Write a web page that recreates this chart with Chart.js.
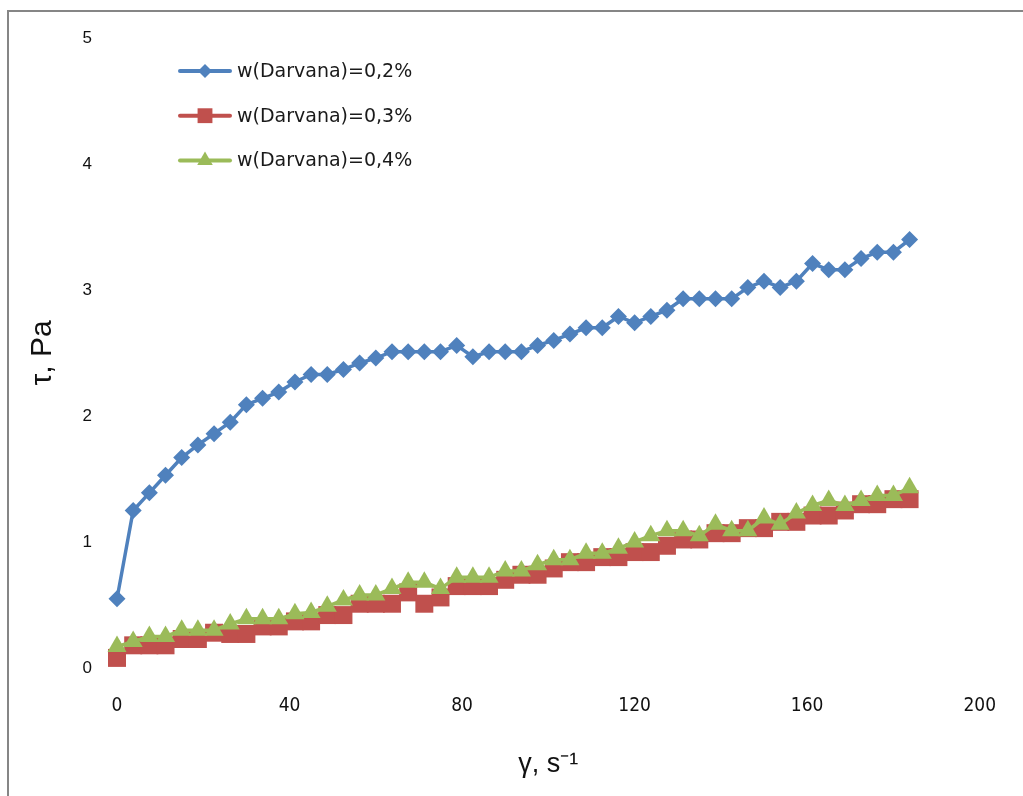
<!DOCTYPE html>
<html>
<head>
<meta charset="utf-8">
<script src="https://cdn.jsdelivr.net/npm/chart.js@4.4.1/dist/chart.umd.min.js"></script>
<style>
  html, body { margin: 0; padding: 0; background: #fff; }
  canvas { display: block; }
</style>
</head>
<body>
<canvas id="flowChart" width="1023" height="796"></canvas>
<script>
// shear rate, s-1
const shearRate = [0, 3.75, 7.5, 11.25, 15, 18.75, 22.5, 26.25, 30, 33.75,
  37.5, 41.25, 45, 48.75, 52.5, 56.25, 60, 63.75, 67.5, 71.25,
  75, 78.75, 82.5, 86.25, 90, 93.75, 97.5, 101.25, 105, 108.75,
  112.5, 116.25, 120, 123.75, 127.5, 131.25, 135, 138.75, 142.5, 146.25,
  150, 153.75, 157.5, 161.25, 165, 168.75, 172.5, 176.25, 180, 183.75];

// shear stress, Pa
const tau02 = [0.55, 1.25, 1.39, 1.53, 1.67, 1.77, 1.86, 1.95, 2.09, 2.14,
  2.19, 2.27, 2.33, 2.33, 2.37, 2.42, 2.46, 2.51, 2.51, 2.51,
  2.51, 2.56, 2.47, 2.51, 2.51, 2.51, 2.56, 2.60, 2.65, 2.70,
  2.70, 2.79, 2.74, 2.79, 2.84, 2.93, 2.93, 2.93, 2.93, 3.02,
  3.07, 3.02, 3.07, 3.21, 3.16, 3.16, 3.25, 3.30, 3.30, 3.40];
const tau03 = [0.08, 0.18, 0.18, 0.18, 0.23, 0.23, 0.28, 0.27, 0.27, 0.33,
  0.33, 0.37, 0.37, 0.42, 0.42, 0.51, 0.51, 0.51, 0.60, 0.51,
  0.56, 0.65, 0.65, 0.65, 0.70, 0.74, 0.74, 0.79, 0.84, 0.84,
  0.88, 0.88, 0.92, 0.92, 0.97, 1.02, 1.02, 1.07, 1.07, 1.11,
  1.11, 1.16, 1.16, 1.21, 1.21, 1.25, 1.30, 1.30, 1.34, 1.34];
const tau04 = [0.17, 0.21, 0.25, 0.25, 0.30, 0.30, 0.30, 0.35, 0.39, 0.39,
  0.39, 0.43, 0.44, 0.49, 0.54, 0.58, 0.58, 0.63, 0.68, 0.68,
  0.63, 0.72, 0.72, 0.72, 0.77, 0.77, 0.82, 0.86, 0.86, 0.91,
  0.91, 0.95, 1.00, 1.05, 1.09, 1.09, 1.05, 1.14, 1.09, 1.09,
  1.19, 1.14, 1.23, 1.29, 1.33, 1.29, 1.33, 1.37, 1.37, 1.43];

const seriesNames = ['w(Darvana)=0,2%', 'w(Darvana)=0,3%', 'w(Darvana)=0,4%'];
const xRange = [0, 200];
const yRange = [0, 5];

const pairs = ys => shearRate.map((x, i) => ({ x: x, y: ys[i] }));

// simple marker drawing for the legend
function marker(ctx, style, r, x, y) {
  ctx.beginPath();
  if (style === 'rectRot') {
    ctx.moveTo(x - r, y); ctx.lineTo(x, y - r); ctx.lineTo(x + r, y); ctx.lineTo(x, y + r);
  } else if (style === 'rect') {
    const s = r * Math.SQRT1_2;
    ctx.rect(x - s, y - s, 2 * s, 2 * s);
  } else {
    ctx.moveTo(x, y - r);
    ctx.lineTo(x + r * 0.866, y + r * 0.5);
    ctx.lineTo(x - r * 0.866, y + r * 0.5);
  }
  ctx.closePath();
  ctx.fill();
}

const frameAndLegend = {
  id: 'frameAndLegend',
  beforeDraw(chart) {
    const ctx = chart.ctx;
    ctx.save();
    ctx.fillStyle = '#fff';
    ctx.fillRect(0, 0, chart.width, chart.height);
    ctx.strokeStyle = '#868686';
    ctx.lineWidth = 2;
    ctx.beginPath();
    ctx.moveTo(8, chart.height);
    ctx.lineTo(8, 11);
    ctx.lineTo(chart.width, 11);
    ctx.stroke();
    ctx.restore();
  },
  afterDraw(chart) {
    const ctx = chart.ctx;
    const legendSize = [7, 10.5, 9];
    chart.data.datasets.forEach((ds, i) => {
      const y = 71 + i * 44.7;
      ctx.save();
      ctx.strokeStyle = ds.borderColor;
      ctx.fillStyle = ds.backgroundColor;
      ctx.lineWidth = 4;
      ctx.lineCap = 'round';
      ctx.beginPath();
      ctx.moveTo(180, y);
      ctx.lineTo(230, y);
      ctx.stroke();
      marker(ctx, ds.pointStyle, legendSize[i], 205, y);
      ctx.fillStyle = '#1a1a1a';
      ctx.font = '19px "DejaVu Sans", sans-serif';
      ctx.textBaseline = 'middle';
      ctx.fillText(ds.label, 237, y + 1);
      ctx.restore();
    });
  }
};

new Chart(document.getElementById('flowChart').getContext('2d'), {
  type: 'line',
  data: {
    datasets: [
      {
        label: seriesNames[0],
        data: pairs(tau02),
        borderColor: '#4F81BD',
        backgroundColor: '#4F81BD',
        borderWidth: 3.5,
        pointStyle: 'rectRot',
        pointRadius: 8.5,
        pointBorderWidth: 0,
        clip: false,
        order: 2
      },
      {
        label: seriesNames[1],
        data: pairs(tau03),
        borderColor: '#C0504D',
        backgroundColor: '#C0504D',
        borderWidth: 3.5,
        pointStyle: 'rect',
        pointRadius: 12.7,
        pointBorderWidth: 0,
        clip: false,
        order: 1
      },
      {
        label: seriesNames[2],
        data: pairs(tau04),
        borderColor: '#9BBB59',
        backgroundColor: '#9BBB59',
        borderWidth: 3.5,
        pointStyle: 'triangle',
        pointRadius: 11,
        pointBorderWidth: 0,
        clip: false,
        order: 0
      }
    ]
  },
  options: {
    responsive: false,
    devicePixelRatio: 1,
    animation: false,
    layout: { padding: { top: 38, right: 28, left: 0, bottom: 0 } },
    plugins: {
      legend: { display: false },
      tooltip: { enabled: false }
    },
    elements: { line: { tension: 0 } },
    scales: {
      x: {
        type: 'linear',
        min: xRange[0],
        max: xRange[1],
        grid: { display: false, drawTicks: false },
        border: { display: false },
        ticks: {
          stepSize: 40,
          padding: 27,
          color: '#111',
          font: { family: '"Liberation Sans Narrow", "DejaVu Sans Condensed", sans-serif', size: 19 }
        },
        title: {
          display: true,
          text: 'γ, s⁻¹',
          color: '#111',
          font: { family: '"Liberation Sans", Arial, sans-serif', size: 27 },
          padding: { top: 0, bottom: 15 }
        },
        afterFit(s) { s.height = 128; }
      },
      y: {
        min: yRange[0],
        max: yRange[1],
        grid: { display: false, drawTicks: false },
        border: { display: false },
        ticks: {
          stepSize: 1,
          padding: 25,
          color: '#111',
          font: { family: '"Liberation Sans", Arial, sans-serif', size: 17 }
        },
        title: {
          display: true,
          text: 'τ, Pa',
          color: '#111',
          font: { family: '"Liberation Sans", Arial, sans-serif', size: 30 },
          padding: { top: 25, bottom: 0 }
        },
        afterFit(s) { s.width = 117; }
      }
    }
  },
  plugins: [frameAndLegend]
});
</script>
</body>
</html>
